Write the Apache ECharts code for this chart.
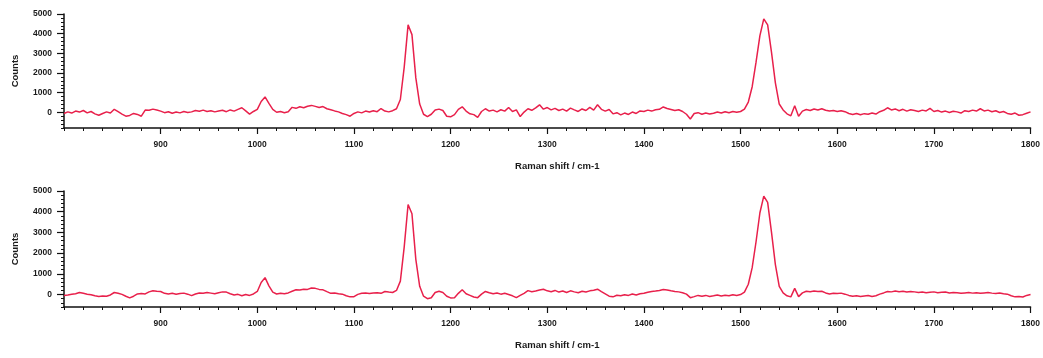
<!DOCTYPE html>
<html>
<head>
<meta charset="utf-8">
<script src="https://cdn.jsdelivr.net/npm/echarts@6/dist/echarts.min.js"></script>
<style>
html, body { margin: 0; padding: 0; background: #fff; }
#chart { width: 1043px; height: 358px; }
</style>
</head>
<body>
<div id="chart"></div>
<script>
// spectra sampled every 4 cm-1 from 800 to 1800
var shiftStart = 800;
var shiftStep = 4;

var xTicks = [900, 1000, 1100, 1200, 1300, 1400, 1500, 1600, 1700, 1800];
var yTicks = [0, 1000, 2000, 3000, 4000, 5000];

// top panel: raw counts
var rawCounts = [
  -60, 20, -40, 60, 10, 90, -30, 40, -80, -150, -60, 20, -40, 150, 30, -90, -200, -160, -60, -110, -200, 110, 100, 160, 120,
  60, -20, 30, -50, 10, -30, 40, -10, 20, 90, 50, 110, 40, 80, 20, 60, 100, 30, 120, 60, 150, 230, 70, -90, 40,
  150, 550, 780, 450, 150, 0, 40, -20, 30, 250, 200, 280, 230, 310, 350, 300, 240, 290, 180, 130, 70, 20, -60, -120, -200,
  -60, 20, -30, 60, 10, 80, 30, 190, 60, 20, 80, 180, 650, 2300, 4450, 3950, 1750, 420, -100, -220, -100, 120, 160, 90, -200,
  -230, -120, 150, 280, 60, -80, -120, -260, 40, 180, 60, 110, 20, 130, 60, 240, 40, 120, -220, 10, 180, 100, 220, 380, 160,
  240, 120, 200, 90, 160, 60, 210, 120, 40, 170, 90, 250, 110, 380, 150, 60, 140, -80, -20, -130, -40, -110, 10, -60, 70,
  40, 110, 60, 130, 150, 270, 190, 140, 90, 130, 40, -100, -340, -60, -20, -100, -40, -90, -50, 10, -40, 30, -20, 40, 0,
  40, 160, 520, 1300, 2550, 3900, 4750, 4450, 3050, 1500, 420, 120, -80, -180, 330, -200, 60, 140, 90, 170, 120, 180, 100, 60, 90,
  40, 80, 30, -60, -110, -60, -130, -70, -100, -40, -90, 30, 100, 230, 120, 170, 80, 150, 60, 130, 90, 40, 110, 70, 200,
  40, 90, 10, 60, -10, 50, 20, -40, 80, 40, 110, 60, 180, 70, 110, 30, 80, -10, 40, -60, -100, -40, -150, -120, -50, 20
];

// bottom panel: smoothed counts
var smoothCounts = [
  -40, -20, 10, 40, 100, 60, 20, -10, -60, -90, -70, -80, -20, 100, 60, 10, -80, -160, -80, 30, 50, 30, 130, 180, 160,
  150, 60, 30, 60, 20, 50, 70, 20, -50, 30, 80, 60, 100, 70, 40, 90, 130, 120, 40, -20, 10, -60, 0, -40, 30,
  150, 580, 820, 420, 120, 30, 60, 40, 80, 160, 230, 220, 260, 250, 320, 300, 250, 230, 140, 60, 80, 40, 20, -60, -110,
  -100, 10, 60, 80, 50, 80, 90, 60, 150, 120, 100, 200, 650, 2300, 4350, 3900, 1700, 400, -80, -200, -150, 100, 160, 100, -80,
  -160, -150, 60, 230, 40, -40, -120, -150, 20, 150, 90, 40, 80, 20, 60, 0, -60, -150, -40, 60, 190, 140, 170, 220, 260,
  180, 140, 200, 120, 170, 100, 180, 130, 90, 160, 120, 180, 210, 260, 140, 30, -80, -110, -30, -60, -10, -40, 30, -20, 40,
  60, 110, 150, 170, 200, 240, 220, 180, 150, 130, 90, 20, -150, -100, -40, -80, -40, -90, -60, -20, -70, -30, -60, -10, -40,
  0, 120, 500, 1300, 2550, 3950, 4750, 4450, 3000, 1450, 400, 80, -60, -110, 300, -100, 80, 160, 140, 170, 150, 160, 80, 30, 60,
  50, 70, 20, -40, -80, -60, -90, -70, -50, -90, -60, 20, 80, 150, 130, 170, 140, 160, 120, 150, 130, 100, 120, 90, 110,
  130, 90, 110, 120, 80, 100, 90, 60, 80, 100, 70, 90, 60, 80, 100, 70, 50, 80, 40, 20, -60, -110, -90, -120, -40, 0
];

function toPoints(counts) {
  return counts.map(function (v, i) { return [shiftStart + i * shiftStep, v]; });
}

var labelFont = { color: '#1a1a1a', fontSize: 8.5, fontWeight: 'bold', fontFamily: 'Liberation Sans, Arial, sans-serif' };
var nameFont = { color: '#1a1a1a', fontSize: 9.5, fontWeight: 'bold', fontFamily: 'Liberation Sans, Arial, sans-serif' };
var axisLine = { show: true, onZero: false, lineStyle: { color: '#111', width: 1.5 } };

function makeX(gridIndex) {
  return [
    {
      gridIndex: gridIndex, type: 'value', position: 'bottom', min: 800, max: 1800, interval: 20,
      axisLine: axisLine,
      axisTick: { show: true, length: 3, lineStyle: { color: '#111' } },
      axisLabel: Object.assign({
        margin: 12,
        formatter: function (v) { return (v % 100 === 0 && v !== 800) ? String(v) : ''; }
      }, labelFont),
      splitLine: { show: false },
      name: 'Raman shift / cm-1', nameLocation: 'middle', nameGap: 33,
      nameTextStyle: Object.assign({ padding: [0, 0, 0, 20] }, nameFont)
    },
    {
      // major ticks
      gridIndex: gridIndex, type: 'value', position: 'bottom', min: 800, max: 1800,
      axisLine: { show: false, onZero: false },
      axisTick: { show: true, length: 6, customValues: xTicks, lineStyle: { color: '#111', width: 1.2 } },
      axisLabel: { show: false },
      splitLine: { show: false }
    }
  ];
}

function makeY(gridIndex, yMin) {
  return [
    {
      gridIndex: gridIndex, type: 'value', position: 'left', min: yMin, max: 5000, interval: 200,
      axisLine: axisLine,
      axisTick: { show: true, length: 3, lineStyle: { color: '#111' } },
      axisLabel: Object.assign({
        margin: 12,
        formatter: function (v) { return (v % 1000 === 0) ? String(v) : ''; }
      }, labelFont),
      splitLine: { show: false },
      name: 'Counts', nameLocation: 'middle', nameGap: 44, nameTextStyle: nameFont
    },
    {
      gridIndex: gridIndex, type: 'value', position: 'left', min: yMin, max: 5000,
      axisLine: { show: false, onZero: false },
      axisTick: { show: true, length: 7, customValues: yTicks, lineStyle: { color: '#111', width: 1.2 } },
      axisLabel: { show: false },
      splitLine: { show: false }
    }
  ];
}

var chart = echarts.init(document.getElementById('chart'), null, { renderer: 'canvas' });

var option = {
  animation: false,
  backgroundColor: '#fff',
  grid: [
    { left: 64, right: 11, top: 14, height: 114 },
    { left: 64, right: 11, top: 191, height: 116 }
  ],
  xAxis: makeX(0).concat(makeX(1)),
  yAxis: makeY(0, -800).concat(makeY(1, -600)),
  series: [
    {
      name: 'raw', type: 'line', xAxisIndex: 0, yAxisIndex: 0,
      data: toPoints(rawCounts), showSymbol: false,
      lineStyle: { color: '#e8204b', width: 1.5 }
    },
    {
      name: 'smoothed', type: 'line', xAxisIndex: 2, yAxisIndex: 2,
      data: toPoints(smoothCounts), showSymbol: false,
      lineStyle: { color: '#e8204b', width: 1.5 }
    }
  ]
};

chart.setOption(option);
</script>
</body>
</html>
